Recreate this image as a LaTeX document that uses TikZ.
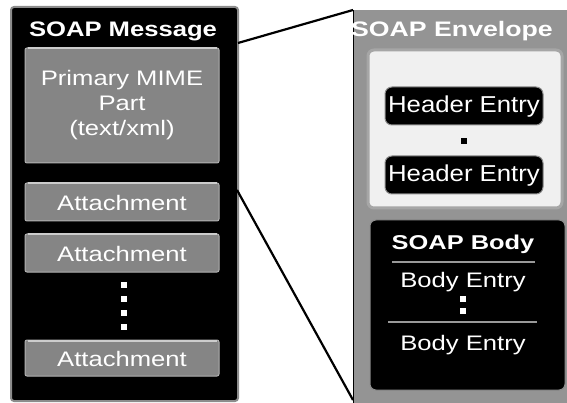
\documentclass[tikz,border=0pt]{standalone}
\usepackage{fontspec}
\setmainfont{Liberation Sans}
\usepackage{graphicx}
\newcommand{\widetxt}[1]{\scalebox{1.22}[1]{#1}}
\begin{document}
\begin{tikzpicture}[x=1pt,y=-1pt,
  panelL/.style={draw=black!45,line width=2pt,fill=black,rounded corners=3pt},
  graybox/.style={fill=black!48,draw=black!30,line width=1pt,rounded corners=2pt,minimum width=194pt,inner sep=0pt},
  hilite/.style={white!80!black,line width=2pt},
  hdrbox/.style={fill=black,draw=black!45,line width=1pt,rounded corners=7pt,minimum width=158pt,minimum height=38pt,inner sep=0pt},
  wtxt/.style={text=white,font=\fontsize{21}{25}\selectfont,align=center,inner sep=0pt},
  btxt/.style={text=white,font=\fontsize{21}{24}\selectfont\bfseries,inner sep=0pt},
  wdot/.style={fill=white,minimum size=6pt,inner sep=0pt},
  bdot/.style={fill=black,minimum size=6pt,inner sep=0pt},
  conn/.style={line width=2.2pt,black},
  sep/.style={black!40,line width=1.5pt}]
\useasboundingbox (0,0) rectangle (567,403);
\clip (0,0) rectangle (567,403);
% ---------- left panel ----------
\node[panelL,minimum width=227pt,minimum height=394pt,inner sep=0pt] (lpanel) at (124.5,204) {};
\node[btxt] (ltitle) at (123,31) {\widetxt{SOAP Message}};
\node[graybox,minimum height=115pt] (mime) at (122,105.5) {};
\draw[hilite] ([xshift=3pt,yshift=-1pt]mime.north west) -- ([xshift=-3pt,yshift=-1pt]mime.north east);
\node[wtxt] (mimetxt) at (122,105) {\widetxt{Primary MIME}\\\widetxt{Part}\\\widetxt{(text/xml)}};
\node[graybox,minimum height=38pt] (att1) at (122,202) {};
\node[graybox,minimum height=38pt] (att2) at (122,253) {};
\node[graybox,minimum height=36pt] (att3) at (122,358) {};
\foreach \b in {att1,att2,att3}
  \draw[hilite] ([xshift=3pt,yshift=-1pt]\b.north west) -- ([xshift=-3pt,yshift=-1pt]\b.north east);
\node[wtxt] (att1t) at (122,203) {\widetxt{Attachment}};
\node[wtxt] (att2t) at (122,254) {\widetxt{Attachment}};
\node[wtxt] (att3t) at (122,359) {\widetxt{Attachment}};
\node[wdot] (ld1) at (124,285) {};
\node[wdot] (ld2) at (124,299) {};
\node[wdot] (ld3) at (124,313) {};
\node[wdot] (ld4) at (124,327) {};
% ---------- right panel ----------
\node[fill=black!42,minimum width=230pt,minimum height=400pt,inner sep=0pt,anchor=north west] (rpanel) at (353,10) {};
\draw[black,line width=1pt] (rpanel.north west) -- (rpanel.south west);
\node[btxt,anchor=west] (rtitle) at (351,31) {\scalebox{1.27}[1]{SOAP Envelope}};
\node[fill=white!94!black,draw=black!35,line width=3pt,rounded corners=6pt,minimum width=194pt,minimum height=158pt,inner sep=0pt] (hdr) at (465,129) {};
\node[hdrbox] (h1) at (464,106) {};
\node[hdrbox] (h2) at (464,175) {};
\node[text=white,font=\fontsize{23}{26}\selectfont,inner sep=0pt] (h1t) at (464,107) {\scalebox{1.12}[1]{Header Entry}};
\node[text=white,font=\fontsize{23}{26}\selectfont,inner sep=0pt] (h2t) at (464,176) {\scalebox{1.12}[1]{Header Entry}};
\node[bdot] (hd) at (464,141) {};
\node[fill=black,draw=black!45,line width=1pt,rounded corners=6pt,minimum width=195pt,minimum height=170pt,inner sep=0pt] (body) at (467.5,305) {};
\node[btxt,font=\fontsize{20}{24}\selectfont\bfseries] (bt) at (463,244) {\scalebox{1.27}[1]{SOAP Body}};
\draw[sep] (392,262) -- (535,262);
\node[wtxt] (be1) at (463,282) {\widetxt{Body Entry}};
\node[wdot] (bd1) at (463,299) {};
\node[wdot] (bd2) at (463,311) {};
\draw[sep] (388,322) -- (537,322);
\node[wtxt] (be2) at (463,345) {\widetxt{Body Entry}};
% ---------- connectors ----------
\coordinate (c1) at (238,43);
\coordinate (c2) at (237,190);
\coordinate (c3) at (353,400);
\draw[conn] (c1) -- (rpanel.north west);
\draw[conn] (c2) -- (c3);
\end{tikzpicture}
\end{document}
